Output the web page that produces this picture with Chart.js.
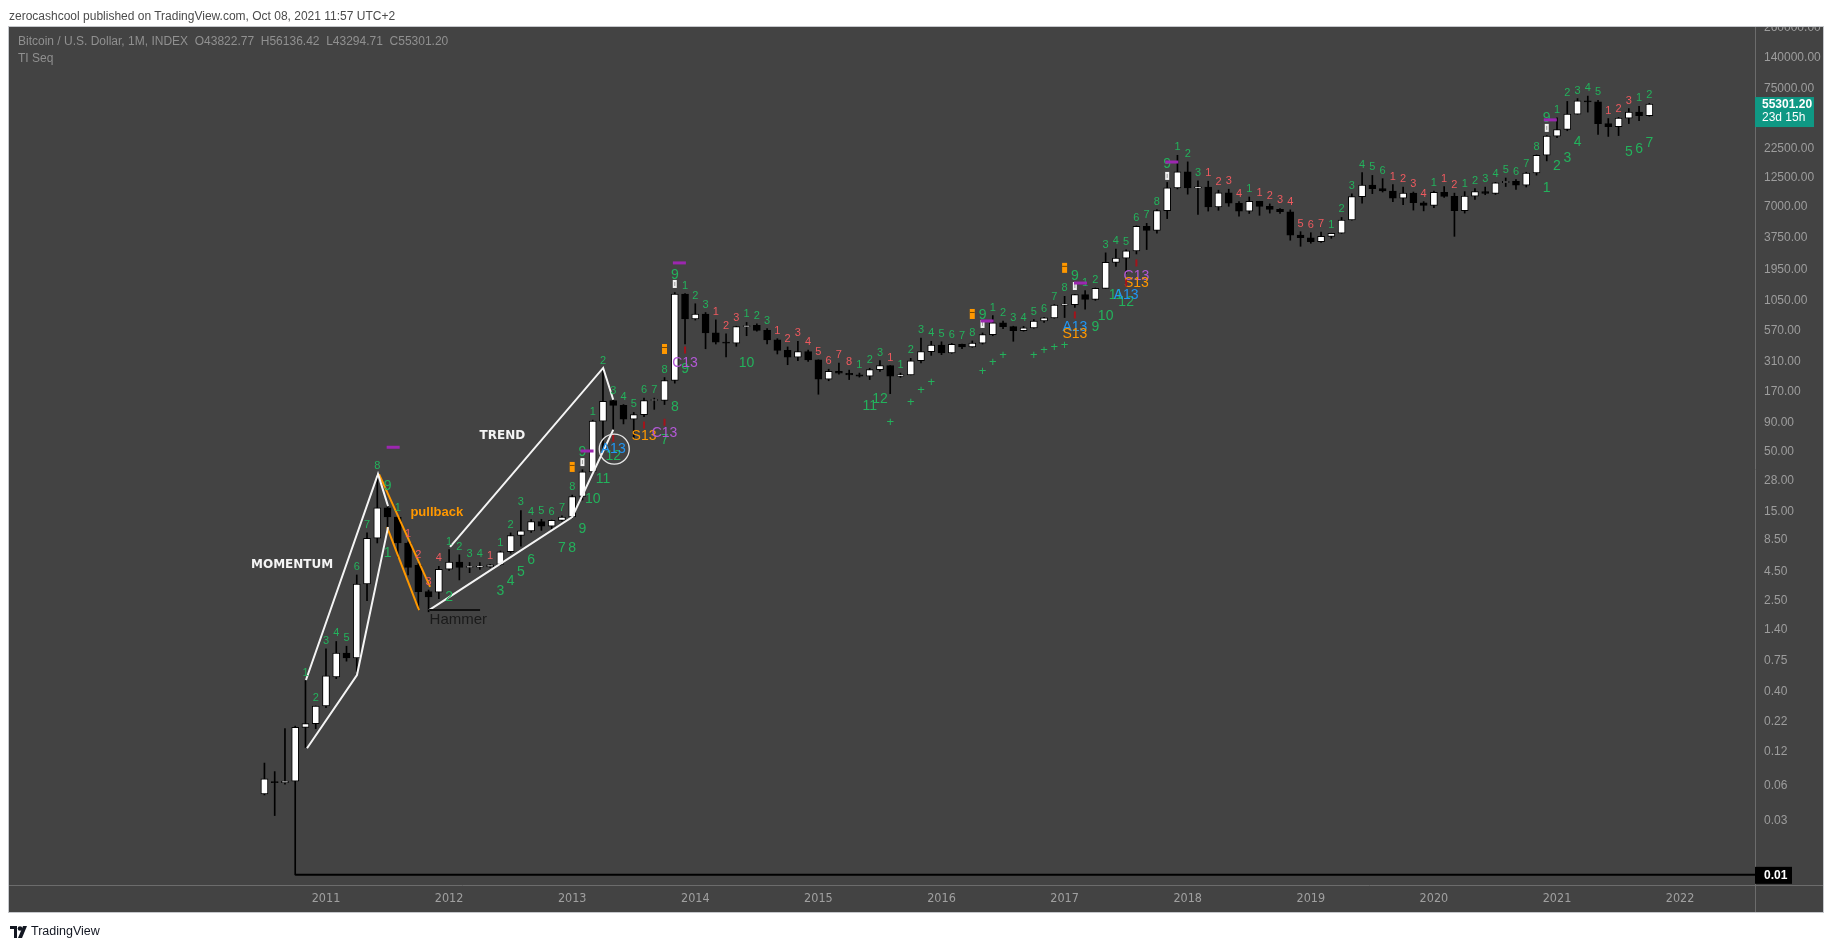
<!DOCTYPE html>
<html>
<head>
<meta charset="utf-8">
<script src="https://cdn.jsdelivr.net/npm/chart.js@4.4.1/dist/chart.umd.min.js"></script>
<style>
  html, body { margin: 0; padding: 0; background: #fff; }
  #wrap { position: relative; width: 1834px; height: 948px; overflow: hidden; }
  #btcChart { position: absolute; left: 0; top: 0; }
  .txt { position: absolute; white-space: nowrap; font-family: 'Liberation Sans', Arial, sans-serif; }
</style>
</head>
<body>
<div id="wrap">
  <canvas id="btcChart" width="1834" height="948"></canvas>
  <div class="txt" style="left:9px;top:9px;font-size:12px;color:#4b4b4b">zerocashcool published on TradingView.com, Oct 08, 2021 11:57 UTC+2</div>
  <div class="txt" style="left:18px;top:34px;font-size:12px;color:#909090">Bitcoin / U.S. Dollar, 1M, INDEX&nbsp; O43822.77&nbsp; H56136.42&nbsp; L43294.71&nbsp; C55301.20</div>
  <div class="txt" style="left:18px;top:51px;font-size:12px;color:#909090">TI Seq</div>
  <svg style="position:absolute;left:10px;top:926px" width="18" height="12" viewBox="0 0 18 12">
    <path d="M0 0h7v12h-3v-9h-4z" fill="#131722"/>
    <circle cx="10" cy="2.5" r="2.3" fill="#131722"/>
    <path d="M13 0h4l-5 12h-4z" fill="#131722"/>
  </svg>
  <div class="txt" style="left:31px;top:924px;font-size:12.5px;color:#131722">TradingView</div>
</div>
<script>
// months are counted from Jan 2010 (0), first candle is Jul 2010
const firstMonth = 6

const opens = [0.051, 0.065, 0.064, 0.066, 0.195, 0.21,
  0.30, 0.54, 0.87, 0.79, 3.5, 8.8, 16.2, 13.5, 8.0, 5.1, 3.0, 2.97,
  4.73, 5.45, 4.9, 4.92, 4.95, 5.2, 6.7, 9.3, 10.2, 12.3, 11.2, 12.6,
  13.5, 20.4, 33.5, 93, 141, 128, 97, 106, 141, 141, 211, 1205,
  730, 806, 551, 457, 448, 625, 640, 580, 478, 387, 338, 378,
  320, 217, 254, 244, 236, 230, 263, 285, 230, 236, 314, 377,
  430, 368, 437, 416, 448, 531, 673, 624, 575, 610, 700, 745,
  963, 970, 1190, 1080, 1350, 2280, 2480, 2870, 4700, 4340, 6470, 10230,
  14150, 10220, 10400, 6970, 9240, 7500, 6400, 7780, 7040, 6620, 6320, 3950,
  3740, 3450, 3850, 4100, 5350, 8570, 10820, 10080, 9600, 8290, 9200, 7570,
  7190, 9350, 8600, 6440, 8650, 9460, 9140, 11320, 11680, 10780, 13780, 19700,
  29000, 33100, 45200, 58900, 57750, 37300, 35000, 41600, 47100, 43822.77]
const highs = [0.095, 0.08, 0.19, 0.20, 0.50, 0.30,
  0.95, 1.10, 1.00, 4.2, 9.8, 32, 17.5, 13.7, 8.2, 5.3, 3.1, 5.0,
  7.0, 6.3, 5.4, 5.4, 5.2, 6.8, 9.8, 15.4, 12.8, 12.9, 12.7, 13.8,
  21, 35, 95, 266, 145, 130, 111, 148, 148, 224, 1240, 1215,
  990, 830, 715, 540, 630, 680, 660, 600, 490, 415, 465, 390,
  320, 265, 300, 260, 245, 270, 315, 285, 245, 330, 497, 465,
  460, 445, 440, 468, 550, 780, 700, 630, 628, 720, 755, 975,
  1150, 1200, 1290, 1360, 2760, 2980, 2930, 4750, 5000, 6600, 11400, 19700,
  17250, 11800, 11700, 9750, 9950, 7750, 8500, 7800, 7400, 6750, 6560, 4230,
  4140, 4200, 4100, 5630, 9080, 13870, 13130, 12300, 10900, 10370, 9400, 7750,
  9600, 10500, 9190, 9470, 10080, 10380, 11430, 12470, 12070, 14000, 19860, 29300,
  41950, 58300, 61800, 64900, 59500, 41300, 42300, 50500, 52900, 56136.42]
const lows = [0.050, 0.033, 0.062, 0.01, 0.13, 0.19,
  0.29, 0.52, 0.74, 0.60, 2.5, 8.0, 10.7, 6.0, 4.2, 2.1, 2.0, 2.6,
  4.6, 3.8, 4.4, 4.7, 4.9, 5.1, 6.5, 7.5, 9.9, 10.3, 10.6, 12.4,
  13.2, 19, 33, 50, 80, 88, 65, 102, 118, 130, 200, 440,
  713, 400, 440, 340, 420, 520, 570, 440, 360, 290, 315, 310,
  160, 210, 240, 215, 226, 215, 253, 162, 225, 236, 300, 350,
  355, 365, 400, 412, 440, 520, 600, 465, 570, 605, 680, 740,
  750, 920, 890, 1060, 1350, 2100, 1830, 2700, 2950, 4100, 5500, 10000,
  9000, 6000, 6400, 6500, 7050, 5780, 6100, 5880, 6150, 6100, 3560, 3150,
  3350, 3400, 3700, 4080, 5330, 7500, 9100, 9400, 7720, 7300, 6530, 6430,
  6850, 8450, 3850, 6150, 8100, 8900, 8960, 10500, 9880, 10400, 13200, 17600,
  28100, 32300, 45000, 47000, 30000, 28800, 29300, 37300, 39600, 43294.71]
const closes = [0.069, 0.064, 0.066, 0.195, 0.21, 0.30,
  0.55, 0.87, 0.79, 3.5, 8.8, 16.2, 13.5, 8.0, 4.9, 3.0, 2.7, 4.7,
  5.45, 4.9, 4.92, 4.95, 5.15, 6.7, 9.3, 10.2, 12.3, 11.2, 12.6, 13.5,
  20.4, 33.5, 93, 139, 128, 97, 106, 141, 141.5, 211, 1205, 730,
  806, 551, 457, 448, 625, 632, 580, 478, 387, 338, 378, 320,
  217, 254, 244, 236, 230, 263, 285, 230, 236, 314, 377, 430,
  368, 437, 416, 448, 531, 673, 624, 575, 610, 700, 745, 963,
  970, 1190, 1080, 1350, 2280, 2480, 2870, 4700, 4340, 6470, 10230, 14150,
  10220, 10400, 6970, 9240, 7500, 6400, 7780, 7040, 6620, 6320, 3950, 3740,
  3450, 3850, 4100, 5350, 8570, 10820, 10080, 9600, 8290, 9200, 7570, 7190,
  9350, 8600, 6440, 8650, 9460, 9140, 11320, 11680, 10780, 13780, 19700, 29000,
  33100, 45200, 58900, 57750, 37300, 35000, 41600, 47100, 43800, 55301.20]

// TD setup count above each candle: g = up count, r = down count
const setupLabels = ['', '', '', '', 'g1', 'g2',
  'g3', 'g4', 'g5', 'g6', 'g7', 'g8', 'g9', 'g1', 'r1', 'r2', 'r3', 'r4',
  'g1', 'g2', 'g3', 'g4', 'r1', 'g1', 'g2', 'g3', 'g4', 'g5', 'g6', 'g7',
  'g8', 'g9', 'g1', 'g2', 'g3', 'g4', 'g5', 'g6', 'g7', 'g8', 'g9', 'g1',
  'g2', 'g3', 'r1', 'r2', 'r3', 'g1', 'g2', 'g3', 'r1', 'r2', 'r3', 'r4',
  'r5', 'r6', 'r7', 'r8', 'g1', 'g2', 'g3', 'r1', 'g1', 'g2', 'g3', 'g4',
  'g5', 'g6', 'g7', 'g8', 'g9', 'g1', 'g2', 'g3', 'g4', 'g5', 'g6', 'g7',
  'g8', 'g9', 'g1', 'g2', 'g3', 'g4', 'g5', 'g6', 'g7', 'g8', 'g9', 'g1',
  'g2', 'g3', 'r1', 'r2', 'r3', 'r4', 'g1', 'r1', 'r2', 'r3', 'r4', 'r5',
  'r6', 'r7', 'g1', 'g2', 'g3', 'g4', 'g5', 'g6', 'r1', 'r2', 'r3', 'r4',
  'g1', 'r1', 'r2', 'g1', 'g2', 'g3', 'g4', 'g5', 'g6', 'g7', 'g8', 'g9',
  'g1', 'g2', 'g3', 'g4', 'g5', 'r1', 'r2', 'r3', 'g1', 'g2']

// countdown numbers and 13 signals under the candles
const cdMonths = [18, 24, 29, 30, 31, 32, 35, 36, 37, 38, 39, 40, 40, 43, 45, 45, 46, 47, 47, 53, 65, 66,
  85, 85, 87, 88, 89, 90, 90, 91, 91, 131, 132, 133, 134, 139, 140, 141]
const cdPrices = [6.5, 2.7, 3.04, 3.72, 4.46, 5.67, 7.2, 7.2, 10.6, 19.4, 29, 46, 53, 69, 64, 73, 124, 266, 300, 300, 126, 146,
  621, 538, 621, 774, 1180, 1026, 1180, 1734, 1507, 10200, 15900, 18700, 25800, 21100, 22400, 25200]
const cdTexts = ['1', '2', '3', '4', '5', '6', '7', '8', '9', '10', '11', '12', 'A13', 'S13', '7', 'C13', '8', '9', 'C13', '10', '11', '12',
  'A13', 'S13', '9', '10', '11', '12', 'A13', 'C13', 'S13', '1', '2', '3', '4', '5', '6', '7']
const cdKinds = ['n', 'n', 'n', 'n', 'n', 'n', 'n', 'n', 'n', 'n', 'n', 'n', 'a', 's', 'n', 'c', 'n', 'n', 'c', 'n', 'n', 'n',
  'a', 's', 'n', 'n', 'n', 'n', 'a', 'c', 's', 'n', 'n', 'n', 'n', 'n', 'n', 'n']

const plusMonths = [67, 69, 70, 71, 76, 77, 78, 81, 82, 83, 84]
const plusPrices = [91, 137, 174, 201, 251, 301, 353, 353, 390, 415, 432]
const infoMonths = [36, 45, 75, 84]
const infoPrices = [37, 398, 806, 2040]
const whiteMarkMonths = [37, 46, 76, 85, 94, 131]
const whiteMarkPrices = [40.8, 1475, 659, 1416, 13000, 34200]
const dashMonths = [18.5, 37.4, 46.4, 76.4, 85.5, 94.4, 131.3]
const dashPrices = [55, 51, 2254, 700, 1503, 17200, 40200]
const redMarkMonths = [40, 43, 45, 47, 85, 90, 91]
const redMarkPrices = [66, 86, 91, 390, 790, 1503, 2254]

// hand drawn lines, [month, price]
const momentumLeft = [[10.05, 0.506], [17.07, 32.1], [18.05, 16.8]]
const momentumRight = [[10.15, 0.128], [15.02, 0.56], [18.05, 11.0]]
const pullbackTop = [[17.17, 32], [22.15, 3.3]]
const pullbackLow = [[17.95, 11], [21.07, 2.07]]
const hammerLine = [[22.05, 2.07], [27.02, 2.07]]
const trendLow = [[22.05, 2.07], [36.0, 13.5], [40.0, 78]]
const trendHigh = [[24.1, 7.4], [39.02, 272], [40.0, 143]]
const levelLine = [[9, 0.01], [152, 0.01]]

const yTicks = [260000, 140000, 75000, 40000, 22500, 12500, 7000, 3750, 1950, 1050, 570, 310, 170, 90, 50, 28, 15, 8.5, 4.5, 2.5, 1.4, 0.75, 0.4, 0.22, 0.12, 0.06, 0.03]
const yearTicks = [12, 24, 36, 48, 60, 72, 84, 96, 108, 120, 132, 144]

const greenColor = '#23b25c'
const redColor = '#ee5a5f'
const orangeColor = '#ff9800'
const blueColor = '#2196f3'
const purpleColor = '#b359d6'
const bgColor = '#434343'

function pts(arr) {
  return arr.map(p => ({x: p[0], y: p[1]}))
}

function drawLine(color, arr, width) {
  return {
    type: 'line', data: pts(arr), borderColor: color, borderWidth: width || 2,
    pointRadius: 0, tension: 0, fill: false, order: 0
  }
}

var wickData = lows.map((l, i) => ({x: firstMonth + i, y: [l, highs[i]]}))
var bodyData = opens.map((o, i) => ({x: firstMonth + i, y: [o, closes[i]]}))

const seqPlugin = {
  id: 'seq',
  beforeDraw(chart) {
    const ctx = chart.ctx
    ctx.save()
    ctx.fillStyle = bgColor
    ctx.fillRect(9, 27, 1814, 885)
    ctx.restore()
  },
  afterDatasetsDraw(chart) {
    const ctx = chart.ctx
    const xs = chart.scales.x
    const ys = chart.scales.y
    const a = chart.chartArea
    ctx.save()
    ctx.beginPath()
    ctx.rect(a.left, a.top, a.right - a.left, a.bottom - a.top)
    ctx.clip()
    ctx.textAlign = 'center'

    // setup counts
    ctx.textBaseline = 'alphabetic'
    setupLabels.forEach((s, i) => {
      if (!s) return
      var x = xs.getPixelForValue(firstMonth + i)
      var y = ys.getPixelForValue(highs[i])
      var big = s[1] === '9'
      ctx.font = (big ? '14px' : '11px') + ' "Liberation Sans", Arial, sans-serif'
      ctx.fillStyle = s[0] === 'g' ? greenColor : redColor
      ctx.fillText(s.slice(1), x, y - (big ? 14 : 5))
    })

    // countdown
    ctx.textBaseline = 'middle'
    ctx.font = '14px "Liberation Sans", Arial, sans-serif'
    cdMonths.forEach((m, i) => {
      var k = cdKinds[i]
      ctx.fillStyle = k === 'a' ? blueColor : k === 's' ? orangeColor : k === 'c' ? purpleColor : greenColor
      ctx.fillText(cdTexts[i], xs.getPixelForValue(m), ys.getPixelForValue(cdPrices[i]))
    })

    ctx.font = '13px "Liberation Sans", Arial, sans-serif'
    ctx.fillStyle = greenColor
    plusMonths.forEach((m, i) => {
      ctx.fillText('+', xs.getPixelForValue(m), ys.getPixelForValue(plusPrices[i]))
    })

    infoMonths.forEach((m, i) => {
      var x = xs.getPixelForValue(m), y = ys.getPixelForValue(infoPrices[i])
      ctx.fillStyle = orangeColor
      ctx.fillRect(x - 2.5, y - 5, 5, 10)
      ctx.fillStyle = '#7a4a00'
      ctx.fillRect(x - 2.5, y - 2, 5, 1)
    })
    whiteMarkMonths.forEach((m, i) => {
      var x = xs.getPixelForValue(m), y = ys.getPixelForValue(whiteMarkPrices[i])
      ctx.fillStyle = '#f2f2f2'
      ctx.fillRect(x - 2, y - 4, 4, 8)
      ctx.fillStyle = '#9a9a9a'
      ctx.fillRect(x - 0.5, y - 2, 1, 4)
    })
    dashMonths.forEach((m, i) => {
      var x = xs.getPixelForValue(m), y = ys.getPixelForValue(dashPrices[i])
      ctx.fillStyle = '#9c27b0'
      ctx.fillRect(x - 6, y - 1.5, 13, 3)
    })
    redMarkMonths.forEach((m, i) => {
      var x = xs.getPixelForValue(m), y = ys.getPixelForValue(redMarkPrices[i])
      ctx.fillStyle = '#a3141b'
      ctx.fillRect(x - 1, y - 3.5, 2, 7)
    })

    // circle round the first 13
    ctx.strokeStyle = '#e6e6e6'
    ctx.lineWidth = 1.3
    ctx.beginPath()
    ctx.arc(xs.getPixelForValue(40.1), ys.getPixelForValue(53), 15, 0, Math.PI * 2)
    ctx.stroke()

    // annotations
    ctx.textBaseline = 'middle'
    ctx.fillStyle = '#f4f4f4'
    ctx.font = 'bold 12px "DejaVu Sans", sans-serif'
    ctx.fillText('MOMENTUM', xs.getPixelForValue(8.7), ys.getPixelForValue(5.1))
    ctx.fillText('TREND', xs.getPixelForValue(29.2), ys.getPixelForValue(69))
    ctx.fillStyle = orangeColor
    ctx.font = 'bold 13px "Liberation Sans", Arial, sans-serif'
    ctx.fillText('pullback', xs.getPixelForValue(22.8), ys.getPixelForValue(14.9))
    ctx.fillStyle = '#1a1a1a'
    ctx.font = '15px "Liberation Sans", Arial, sans-serif'
    ctx.fillText('Hammer', xs.getPixelForValue(24.9), ys.getPixelForValue(1.69))
    ctx.restore()
  },
  afterDraw(chart) {
    const ctx = chart.ctx
    const ys = chart.scales.y
    ctx.save()
    ctx.fillStyle = '#fff'
    ctx.fillRect(0, 0, 1834, 26)
    ctx.strokeStyle = '#6c6c6c'
    ctx.lineWidth = 1
    ctx.beginPath()
    ctx.moveTo(1755.5, 27); ctx.lineTo(1755.5, 912)
    ctx.moveTo(9, 885.5); ctx.lineTo(1823, 885.5)
    ctx.stroke()
    ctx.strokeStyle = '#c6c8cc'
    ctx.strokeRect(8.5, 26.5, 1815, 886)

    ctx.textAlign = 'left'
    ctx.textBaseline = 'middle'
    var y01 = ys.getPixelForValue(0.01)
    ctx.fillStyle = '#000'
    ctx.fillRect(1755, y01 - 8, 37, 17)
    ctx.fillStyle = '#fff'
    ctx.font = 'bold 12px "Liberation Sans", Arial, sans-serif'
    ctx.fillText('0.01', 1764, y01 + 0.5)

    var last = closes.length - 1
    var yc = ys.getPixelForValue(closes[last])
    ctx.fillStyle = '#0f9884'
    ctx.fillRect(1755, yc - 7, 59, 30)
    ctx.fillStyle = '#fff'
    ctx.fillText(closes[last].toFixed(2), 1762, yc + 1)
    ctx.font = '12px "Liberation Sans", Arial, sans-serif'
    ctx.fillText('23d 15h', 1762, yc + 14)
    ctx.restore()
  }
}

var ctxB = document.getElementById('btcChart')
var chartB = new Chart(ctxB, {
  type: 'bar',
  data: {
    datasets: [
      drawLine('#000', levelLine, 2),
      drawLine('#f4f4f4', momentumLeft),
      drawLine('#f4f4f4', momentumRight),
      drawLine(orangeColor, pullbackTop),
      drawLine(orangeColor, pullbackLow),
      drawLine('#111', hammerLine, 2),
      drawLine('#f4f4f4', trendLow),
      drawLine('#f4f4f4', trendHigh),
      {
        label: 'body', data: bodyData, order: 1, grouped: false,
        barThickness: 7, minBarLength: 1, borderSkipped: false,
        borderWidth: 1, borderColor: '#000',
        backgroundColor: c => closes[c.dataIndex] >= opens[c.dataIndex] ? '#ffffff' : '#000000'
      },
      {
        label: 'wick', data: wickData, order: 2, grouped: false,
        barThickness: 1, backgroundColor: '#000', borderWidth: 0
      }
    ]
  },
  options: {
    responsive: false,
    animation: false,
    layout: { padding: { left: 9, top: 27, right: 11, bottom: 36 } },
    plugins: { legend: { display: false }, tooltip: { enabled: false } },
    scales: {
      x: {
        type: 'linear', min: -18.9, max: 151.3, offset: false,
        grid: { display: false, drawTicks: false, offset: false }, border: { display: false },
        afterBuildTicks: s => { s.ticks = yearTicks.map(v => ({value: v})) },
        afterFit: s => { s.height = 27 },
        ticks: {
          padding: 6, color: '#a0a0a0', maxRotation: 0, autoSkip: false,
          font: { family: "'Liberation Sans Narrow', 'DejaVu Sans Condensed', sans-serif", size: 12.5 },
          callback: v => String(2010 + v / 12)
        }
      },
      y: {
        type: 'logarithmic', position: 'right', min: 0.00815, max: 261000,
        grid: { display: false, drawTicks: false }, border: { display: false },
        afterBuildTicks: s => { s.ticks = yTicks.map(v => ({value: v})) },
        afterFit: s => { s.width = 68 },
        ticks: {
          padding: 9, color: '#9d9d9d', autoSkip: false,
          font: { family: "'Liberation Sans', Arial, sans-serif", size: 12 },
          callback: v => Number(v).toFixed(2)
        }
      }
    }
  },
  plugins: [seqPlugin]
})
</script>
</body>
</html>
